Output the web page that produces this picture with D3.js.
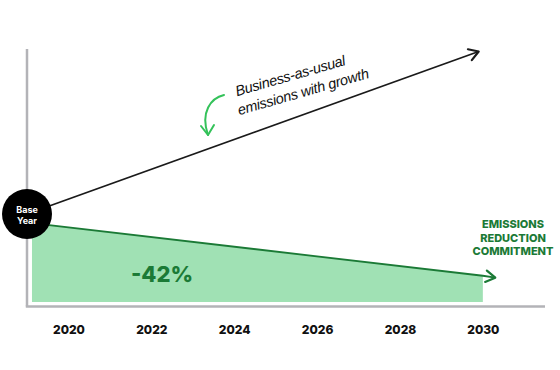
<!DOCTYPE html>
<html>
<head>
<meta charset="utf-8">
<script src="https://cdn.jsdelivr.net/npm/d3@7"></script>
<style>
    body { margin: 0; background: #fff; }
    svg { display: block; }
</style>
</head>
<body>
<svg width="560" height="370"></svg>
<script>
let years = [2020, 2022, 2024, 2026, 2028, 2030];
let baseYear = 2019;
let bauYears = [2019, 2029.9];
let bauValues = [100, 225];
let commitYears = [2019.12, 2030];
let commitValues = [93, 52.5];
let arrowYear = 2030.3;
let arrowValue = 51;
let reductionLabel = "-42%";
let bauLabel = ["Business-as-usual", "emissions with growth"];
let commitLabel = ["EMISSIONS", "REDUCTION", "COMMITMENT"];

let svgField = d3.select("body").select("svg");

let x = d3.scaleLinear().domain([2019, 2031.5]).range([27, 545]);
let y = d3.scaleLinear().domain([0, 250]).range([344, 19]);
let axisY = 306.5;

let darkGreen = "#1b7a36";
let lightGreen = "#a0e1b4";
let axisColor = "#b3b3b7";
let boldFont = "Inter, 'Liberation Sans', sans-serif";

function drawArea() {
    let pts = commitYears.map(function (d, i) {
        return { yr: d, v: commitValues[i] };
    });
    let area = d3.area()
        .x(function (d) { return x(d.yr); })
        .y0(axisY - 4.5)
        .y1(function (d) { return y(d.v); });
    svgField.append("path")
        .datum(pts)
        .attr("d", area)
        .attr("fill", lightGreen);

    let linePts = pts.concat([{ yr: arrowYear, v: arrowValue }]);
    let line = d3.line()
        .x(function (d) { return x(d.yr); })
        .y(function (d) { return y(d.v); });
    svgField.append("path")
        .datum(linePts)
        .attr("d", line)
        .attr("fill", "none")
        .attr("stroke", darkGreen)
        .attr("stroke-width", 1.8);
    drawChevron(x(commitYears[1]), y(commitValues[1]), x(arrowYear), y(arrowValue), darkGreen, 2.2);
}

function drawChevron(x1, y1, x2, y2, color, w) {
    let ang = Math.atan2(y2 - y1, x2 - x1);
    let len = 11;
    let spread = 0.55;
    let p = d3.path();
    p.moveTo(x2 - len * Math.cos(ang - spread), y2 - len * Math.sin(ang - spread));
    p.lineTo(x2, y2);
    p.lineTo(x2 - len * Math.cos(ang + spread), y2 - len * Math.sin(ang + spread));
    svgField.append("path")
        .attr("d", p.toString())
        .attr("fill", "none")
        .attr("stroke", color)
        .attr("stroke-width", w)
        .attr("stroke-linecap", "round")
        .attr("stroke-linejoin", "round");
}

function drawAxes() {
    svgField.append("line")
        .attr("x1", x(baseYear)).attr("x2", x(baseYear))
        .attr("y1", 49).attr("y2", axisY)
        .attr("stroke", axisColor)
        .attr("stroke-width", 2.5);
    svgField.append("line")
        .attr("x1", x(baseYear) - 1.2).attr("x2", x.range()[1])
        .attr("y1", axisY).attr("y2", axisY)
        .attr("stroke", axisColor)
        .attr("stroke-width", 2.5);

    let axis = d3.axisBottom(x)
        .tickValues(years)
        .tickFormat(d3.format("d"))
        .tickSize(0)
        .tickPadding(0);
    let g = svgField.append("g")
        .attr("transform", "translate(0," + (axisY + 19) + ")")
        .call(axis);
    g.select(".domain").remove();
    g.selectAll("text")
        .attr("fill", "#111")
        .attr("font-family", boldFont)
        .attr("font-weight", 800)
        .attr("font-size", "12px");
}

function drawBau() {
    svgField.append("line")
        .attr("x1", x(bauYears[0])).attr("y1", y(bauValues[0]))
        .attr("x2", x(bauYears[1])).attr("y2", y(bauValues[1]))
        .attr("stroke", "#1a1a1a")
        .attr("stroke-width", 1.7);
    drawChevron(x(bauYears[0]), y(bauValues[0]), x(bauYears[1]), y(bauValues[1]), "#1a1a1a", 2.2);

    let t = svgField.append("text")
        .attr("transform", "translate(234,97) rotate(-16)")
        .attr("font-family", "'Liberation Sans', 'DejaVu Sans', sans-serif")
        .attr("font-style", "italic")
        .attr("font-size", "14.5px")
        .attr("fill", "#111");
    t.selectAll("tspan")
        .data(bauLabel)
        .enter().append("tspan")
        .attr("x", function (d, i) { return i === 0 ? 3 : 0; })
        .attr("dy", function (d, i) { return i === 0 ? 0 : 19; })
        .attr("textLength", function (d, i) { return i === 0 ? 114 : 136; })
        .text(function (d) { return d; });

    // little hand drawn arrow pointing at the line
    svgField.append("path")
        .attr("d", "M224,95 C211,98 200,112 208,135")
        .attr("fill", "none")
        .attr("stroke", "#34c25a")
        .attr("stroke-width", 2)
        .attr("stroke-linecap", "round");
    svgField.append("path")
        .attr("d", "M201,126 L208,135 L214,125")
        .attr("fill", "none")
        .attr("stroke", "#34c25a")
        .attr("stroke-width", 2)
        .attr("stroke-linecap", "round")
        .attr("stroke-linejoin", "round");
}

function drawBase() {
    svgField.append("circle")
        .attr("cx", x(baseYear))
        .attr("cy", y(bauValues[0]))
        .attr("r", 25)
        .attr("fill", "#000");
    svgField.selectAll(".base-txt")
        .data(["Base", "Year"])
        .enter().append("text")
        .attr("class", "base-txt")
        .attr("x", x(baseYear))
        .attr("y", function (d, i) { return y(bauValues[0]) - 1 + i * 10.5; })
        .attr("text-anchor", "middle")
        .attr("font-family", boldFont)
        .attr("font-weight", 700)
        .attr("font-size", "9px")
        .attr("fill", "#fff")
        .text(function (d) { return d; });
}

function drawLabels() {
    svgField.append("text")
        .attr("x", 162)
        .attr("y", 282)
        .attr("text-anchor", "middle")
        .attr("font-family", boldFont)
        .attr("font-weight", 800)
        .attr("font-size", "22px")
        .attr("fill", darkGreen)
        .text(reductionLabel);

    svgField.append("g").selectAll("text")
        .data(commitLabel)
        .enter().append("text")
        .attr("x", 513)
        .attr("y", function (d, i) { return 228 + i * 13.5; })
        .attr("text-anchor", "middle")
        .attr("font-family", boldFont)
        .attr("font-weight", 800)
        .attr("font-size", "11px")
        .attr("fill", darkGreen)
        .text(function (d) { return d; });
}

drawArea();
drawAxes();
drawBau();
drawBase();
drawLabels();
</script>
</body>
</html>
